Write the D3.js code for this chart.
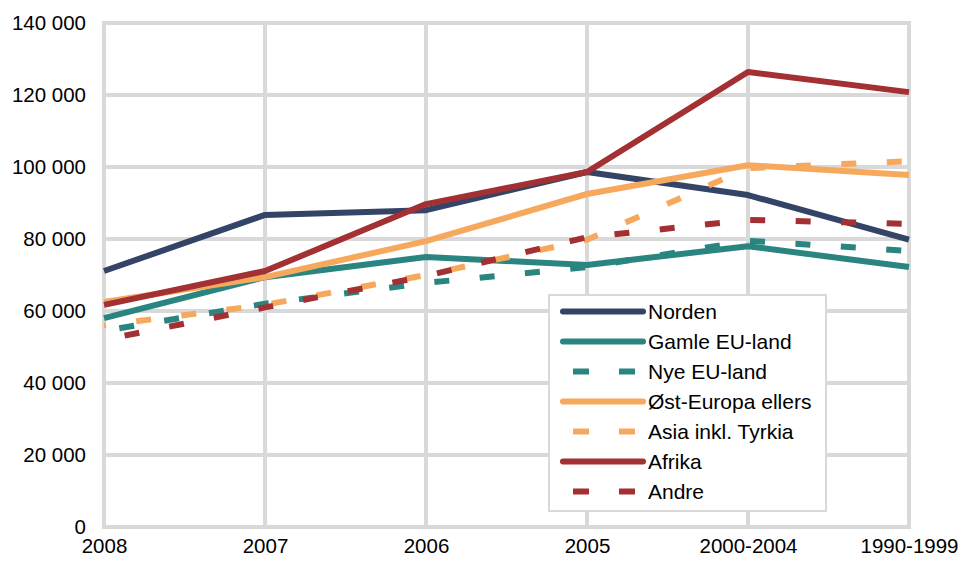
<!DOCTYPE html>
<html>
<head>
<meta charset="utf-8">
<script src="https://cdn.jsdelivr.net/npm/d3@7"></script>
<style>
body { margin: 0; background: #fff; }
text { font-family: "Liberation Sans", Arial, sans-serif; }
</style>
</head>
<body>
<svg width="963" height="561"></svg>
<script>
var categories = ["2008", "2007", "2006", "2005", "2000-2004", "1990-1999"];
var yTicks = [0, 20000, 40000, 60000, 80000, 100000, 120000, 140000];

var norden  = [71100, 86700, 88000, 98600, 92200, 79800];
var gamleEU = [58000, 69400, 75000, 72800, 78000, 72200];
var nyeEU   = [54500, 62000, 67800, 72200, 79500, 76700];
var ostEur  = [62500, 69400, 79400, 92500, 100500, 97800];
var asia    = [56000, 61700, 70000, 79800, 99700, 101600];
var afrika  = [61700, 71100, 89700, 98600, 126400, 120800];
var andre   = [52000, 61000, 69700, 80500, 85300, 84200];

var series = [
    {name: "Norden", values: norden, color: "#334466", dashed: false},
    {name: "Gamle EU-land", values: gamleEU, color: "#2a8580", dashed: false},
    {name: "Nye EU-land", values: nyeEU, color: "#2a8580", dashed: true, offset: 30},
    {name: "Øst-Europa ellers", values: ostEur, color: "#f6a95c", dashed: false},
    {name: "Asia inkl. Tyrkia", values: asia, color: "#f6a95c", dashed: true, offset: 13},
    {name: "Afrika", values: afrika, color: "#a33033", dashed: false},
    {name: "Andre", values: andre, color: "#a33033", dashed: true, offset: 24.5}
];

var svg = d3.select("svg");
var plot = {left: 104, right: 909, top: 23, bottom: 527};

var x = d3.scalePoint().domain(categories).range([plot.left, plot.right]);
var y = d3.scaleLinear().domain([0, 140000]).range([plot.bottom, plot.top]);

var fmt = function(d) { return d3.format(",")(d).replace(/,/g, " "); };

// grid
var grid = svg.append("g");
grid.selectAll(".hg").data(yTicks).enter().append("line")
    .attr("x1", plot.left - 2).attr("x2", plot.right + 2)
    .attr("y1", function(d) { return y(d); })
    .attr("y2", function(d) { return y(d); })
    .attr("stroke", "#d9d9d9").attr("stroke-width", 4);
grid.selectAll(".vg").data(categories).enter().append("line")
    .attr("y1", plot.top - 2).attr("y2", plot.bottom + 2)
    .attr("x1", function(d) { return x(d); })
    .attr("x2", function(d) { return x(d); })
    .attr("stroke", "#d9d9d9").attr("stroke-width", 4);

// axis labels
var yAxis = svg.append("g")
    .attr("transform", "translate(" + (plot.left - 18) + ",0)")
    .call(d3.axisLeft(y).tickValues(yTicks).tickFormat(fmt).tickSize(0).tickPadding(0));
yAxis.select(".domain").remove();
yAxis.selectAll("text").attr("font-size", 20.5).attr("fill", "#000")
    .attr("font-family", "Liberation Sans, Arial, sans-serif");

var xAxis = svg.append("g")
    .attr("transform", "translate(0," + (plot.bottom + 11) + ")")
    .call(d3.axisBottom(x).tickSize(0).tickPadding(0));
xAxis.select(".domain").remove();
xAxis.selectAll("text").attr("font-size", 20.5).attr("fill", "#000")
    .attr("font-family", "Liberation Sans, Arial, sans-serif");

// lines
var line = d3.line()
    .x(function(d, i) { return x(categories[i]); })
    .y(function(d) { return y(d); });

svg.append("g").selectAll("path").data(series).enter().append("path")
    .attr("d", function(d) { return line(d.values); })
    .attr("fill", "none")
    .attr("stroke", function(d) { return d.color; })
    .attr("stroke-width", 6)
    .attr("stroke-linejoin", "round")
    .attr("stroke-dasharray", function(d) { return d.dashed ? "15,30.5" : null; })
    .attr("stroke-dashoffset", function(d) { return d.dashed ? d.offset : null; });

// legend
var lg = svg.append("g").attr("transform", "translate(549,295)");
lg.append("rect").attr("width", 277).attr("height", 216)
    .attr("fill", "#fff").attr("stroke", "#d9d9d9").attr("stroke-width", 2);
var item = lg.selectAll(".item").data(series).enter().append("g")
    .attr("transform", function(d, i) { return "translate(0," + (16.5 + i * 30) + ")"; });
item.append("line")
    .attr("x1", function(d) { return d.dashed ? 24 : 14; })
    .attr("x2", function(d) { return d.dashed ? 86 : 94; })
    .attr("stroke", function(d) { return d.color; })
    .attr("stroke-width", 6)
    .attr("stroke-linecap", function(d) { return d.dashed ? "butt" : "round"; })
    .attr("stroke-dasharray", function(d) { return d.dashed ? "16,30" : null; });
item.append("text")
    .attr("x", 99).attr("dy", "0.35em")
    .attr("font-size", 21).attr("fill", "#000")
    .text(function(d) { return d.name; });
</script>
</body>
</html>
